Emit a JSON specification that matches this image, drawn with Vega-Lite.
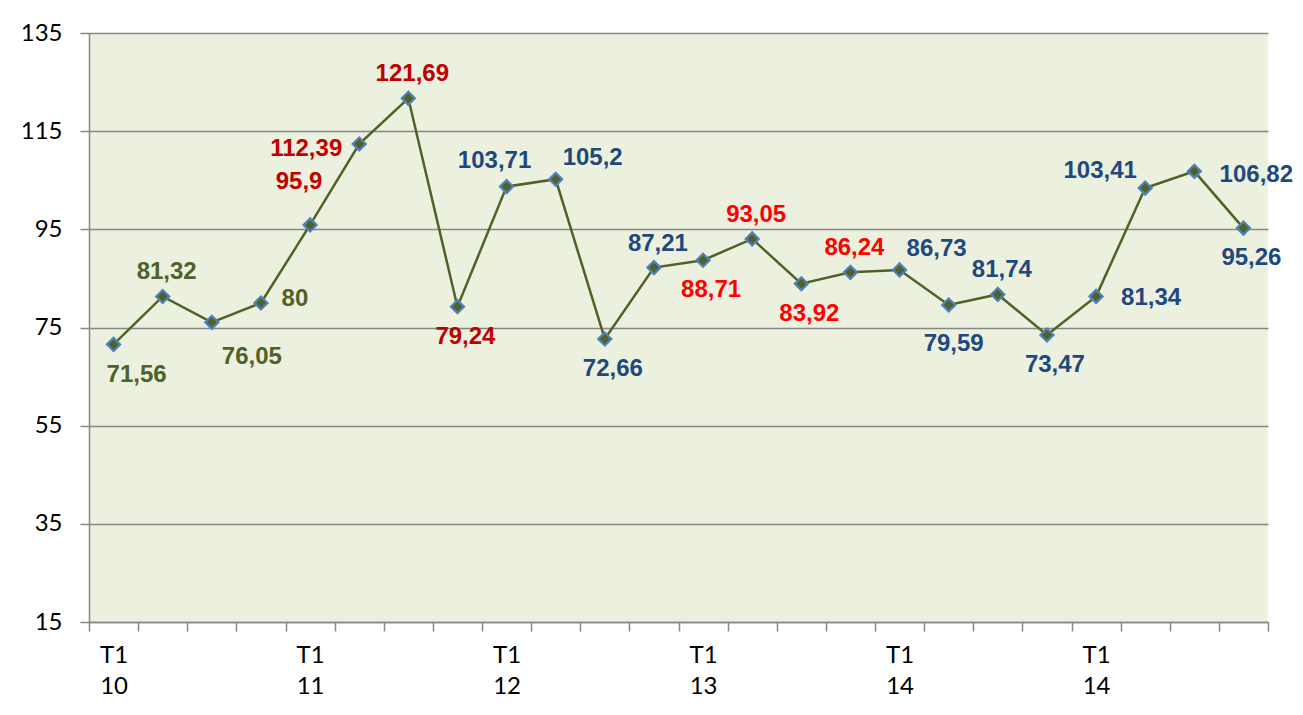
{
  "$schema": "https://vega.github.io/schema/vega-lite/v6.json",
  "width": 1179,
  "height": 589,
  "autosize": {"type": "none"},
  "padding": {"left": 89, "top": 33, "right": 35, "bottom": 93},
  "background": "#FFFFFF",
  "config": {
    "view": {"fill": "#EBF1DE", "stroke": null},
    "locale": {"number": {"decimal": ",", "thousands": ".", "grouping": [3], "currency": ["", ""]}}
  },
  "data": {
    "values": [
      {"period": "10-1", "year": "10", "value": 71.56},
      {"period": "10-2", "year": "10", "value": 81.32},
      {"period": "10-3", "year": "10", "value": 76.05},
      {"period": "10-4", "year": "10", "value": 80},
      {"period": "11-1", "year": "11", "value": 95.9},
      {"period": "11-2", "year": "11", "value": 112.39},
      {"period": "11-3", "year": "11", "value": 121.69},
      {"period": "11-4", "year": "11", "value": 79.24},
      {"period": "12-1", "year": "12", "value": 103.71},
      {"period": "12-2", "year": "12", "value": 105.2},
      {"period": "12-3", "year": "12", "value": 72.66},
      {"period": "12-4", "year": "12", "value": 87.21},
      {"period": "13-1", "year": "13", "value": 88.71},
      {"period": "13-2", "year": "13", "value": 93.05},
      {"period": "13-3", "year": "13", "value": 83.92},
      {"period": "13-4", "year": "13", "value": 86.24},
      {"period": "14-1", "year": "14", "value": 86.73},
      {"period": "14-2", "year": "14", "value": 79.59},
      {"period": "14-3", "year": "14", "value": 81.74},
      {"period": "14-4", "year": "14", "value": 73.47},
      {"period": "14-5", "year": "14", "value": 81.34},
      {"period": "14-6", "year": "14", "value": 103.41},
      {"period": "14-7", "year": "14", "value": 106.82},
      {"period": "14-8", "year": "14", "value": 95.26}
    ]
  },
  "encoding": {
    "x": {
      "field": "period",
      "type": "ordinal",
      "sort": null,
      "scale": {"type": "band", "paddingInner": 0, "paddingOuter": 0},
      "axis": {
        "title": null,
        "labelAngle": 0,
        "labelFont": "Lato",
        "labelFontSize": 24,
        "labelColor": "#000000",
        "tickBand": "extent",
        "tickSize": 9,
        "tickColor": "#878787",
        "tickWidth": 1.5,
        "domainColor": "#878787",
        "domainWidth": 1.5,
        "grid": false,
        "labelPadding": 12,
        "labelLineHeight": 31,
        "labelBaseline": "top",
        "labelExpr": "(substring(datum.value,3)=='1' || datum.value=='14-5') ? ['T1', substring(datum.value,0,2)] : ''"
      }
    },
    "y": {
      "field": "value",
      "type": "quantitative",
      "scale": {"domain": [15, 135], "nice": false, "zero": false},
      "axis": {
        "title": null,
        "labelFont": "Lato",
        "labelFontSize": 24,
        "labelColor": "#000000",
        "values": [15, 35, 55, 75, 95, 115, 135],
        "grid": true,
        "gridColor": "#878787",
        "gridWidth": 1.5,
        "tickSize": 9,
        "tickColor": "#878787",
        "tickWidth": 1.5,
        "domainColor": "#878787",
        "domainWidth": 1.5,
        "labelPadding": 18
      }
    }
  },
  "layer": [
    {"mark": {"type": "line", "color": "#4F6228", "strokeWidth": 2.5}},
    {"mark": {"type": "point", "shape": "diamond", "filled": true, "fill": "#4F6228", "stroke": "#4F81BD", "strokeWidth": 2.2, "size": 170, "opacity": 1}},
    {
      "transform": [{"filter": {"field": "period", "oneOf": ["10-2", "11-3", "12-4", "13-2", "13-4", "14-3"]}}],
      "mark": {"type": "text", "dx": 4, "dy": -24, "font": "Liberation Sans", "fontWeight": "bold", "fontSize": 24},
      "encoding": {"text": {"field": "value", "type": "quantitative", "format": ".2~f"}, "color": {"field": "year", "type": "nominal", "scale": {"domain": ["10", "11", "12", "13", "14"], "range": ["#4F6228", "#C00000", "#1F497D", "#FF0000", "#1F497D"]}, "legend": null}}
    },
    {
      "transform": [{"filter": {"field": "period", "oneOf": ["11-1"]}}],
      "mark": {"type": "text", "dx": -11, "dy": -43, "font": "Liberation Sans", "fontWeight": "bold", "fontSize": 24},
      "encoding": {"text": {"field": "value", "type": "quantitative", "format": ".2~f"}, "color": {"field": "year", "type": "nominal", "legend": null}}
    },
    {
      "transform": [{"filter": {"field": "period", "oneOf": ["12-1"]}}],
      "mark": {"type": "text", "dx": -12, "dy": -26, "font": "Liberation Sans", "fontWeight": "bold", "fontSize": 24},
      "encoding": {"text": {"field": "value", "type": "quantitative", "format": ".2~f"}, "color": {"field": "year", "type": "nominal", "legend": null}}
    },
    {
      "transform": [{"filter": {"field": "period", "oneOf": ["12-2", "14-1"]}}],
      "mark": {"type": "text", "dx": 37, "dy": -21, "font": "Liberation Sans", "fontWeight": "bold", "fontSize": 24},
      "encoding": {"text": {"field": "value", "type": "quantitative", "format": ".2~f"}, "color": {"field": "year", "type": "nominal", "legend": null}}
    },
    {
      "transform": [{"filter": {"field": "period", "oneOf": ["10-1"]}}],
      "mark": {"type": "text", "dx": 23, "dy": 31, "font": "Liberation Sans", "fontWeight": "bold", "fontSize": 24},
      "encoding": {"text": {"field": "value", "type": "quantitative", "format": ".2~f"}, "color": {"field": "year", "type": "nominal", "legend": null}}
    },
    {
      "transform": [{"filter": {"field": "period", "oneOf": ["10-3"]}}],
      "mark": {"type": "text", "dx": 40, "dy": 35, "font": "Liberation Sans", "fontWeight": "bold", "fontSize": 24},
      "encoding": {"text": {"field": "value", "type": "quantitative", "format": ".2~f"}, "color": {"field": "year", "type": "nominal", "legend": null}}
    },
    {
      "transform": [{"filter": {"field": "period", "oneOf": ["11-4", "12-3", "13-1", "13-3", "14-4", "14-8"]}}],
      "mark": {"type": "text", "dx": 8, "dy": 30, "font": "Liberation Sans", "fontWeight": "bold", "fontSize": 24},
      "encoding": {"text": {"field": "value", "type": "quantitative", "format": ".2~f"}, "color": {"field": "year", "type": "nominal", "legend": null}}
    },
    {
      "transform": [{"filter": {"field": "period", "oneOf": ["14-2"]}}],
      "mark": {"type": "text", "dx": 5, "dy": 39, "font": "Liberation Sans", "fontWeight": "bold", "fontSize": 24},
      "encoding": {"text": {"field": "value", "type": "quantitative", "format": ".2~f"}, "color": {"field": "year", "type": "nominal", "legend": null}}
    },
    {
      "transform": [{"filter": {"field": "period", "oneOf": ["10-4"]}}],
      "mark": {"type": "text", "dx": 34, "dy": -4, "font": "Liberation Sans", "fontWeight": "bold", "fontSize": 24},
      "encoding": {"text": {"field": "value", "type": "quantitative", "format": ".2~f"}, "color": {"field": "year", "type": "nominal", "legend": null}}
    },
    {
      "transform": [{"filter": {"field": "period", "oneOf": ["14-5"]}}],
      "mark": {"type": "text", "dx": 55, "dy": 2, "font": "Liberation Sans", "fontWeight": "bold", "fontSize": 24},
      "encoding": {"text": {"field": "value", "type": "quantitative", "format": ".2~f"}, "color": {"field": "year", "type": "nominal", "legend": null}}
    },
    {
      "transform": [{"filter": {"field": "period", "oneOf": ["14-7"]}}],
      "mark": {"type": "text", "dx": 62, "dy": 4, "font": "Liberation Sans", "fontWeight": "bold", "fontSize": 24},
      "encoding": {"text": {"field": "value", "type": "quantitative", "format": ".2~f"}, "color": {"field": "year", "type": "nominal", "legend": null}}
    },
    {
      "transform": [{"filter": {"field": "period", "oneOf": ["11-2"]}}],
      "mark": {"type": "text", "dx": -53, "dy": 5, "font": "Liberation Sans", "fontWeight": "bold", "fontSize": 24},
      "encoding": {"text": {"field": "value", "type": "quantitative", "format": ".2~f"}, "color": {"field": "year", "type": "nominal", "legend": null}}
    },
    {
      "transform": [{"filter": {"field": "period", "oneOf": ["14-6"]}}],
      "mark": {"type": "text", "dx": -45, "dy": -17, "font": "Liberation Sans", "fontWeight": "bold", "fontSize": 24},
      "encoding": {"text": {"field": "value", "type": "quantitative", "format": ".2~f"}, "color": {"field": "year", "type": "nominal", "legend": null}}
    }
  ]
}
